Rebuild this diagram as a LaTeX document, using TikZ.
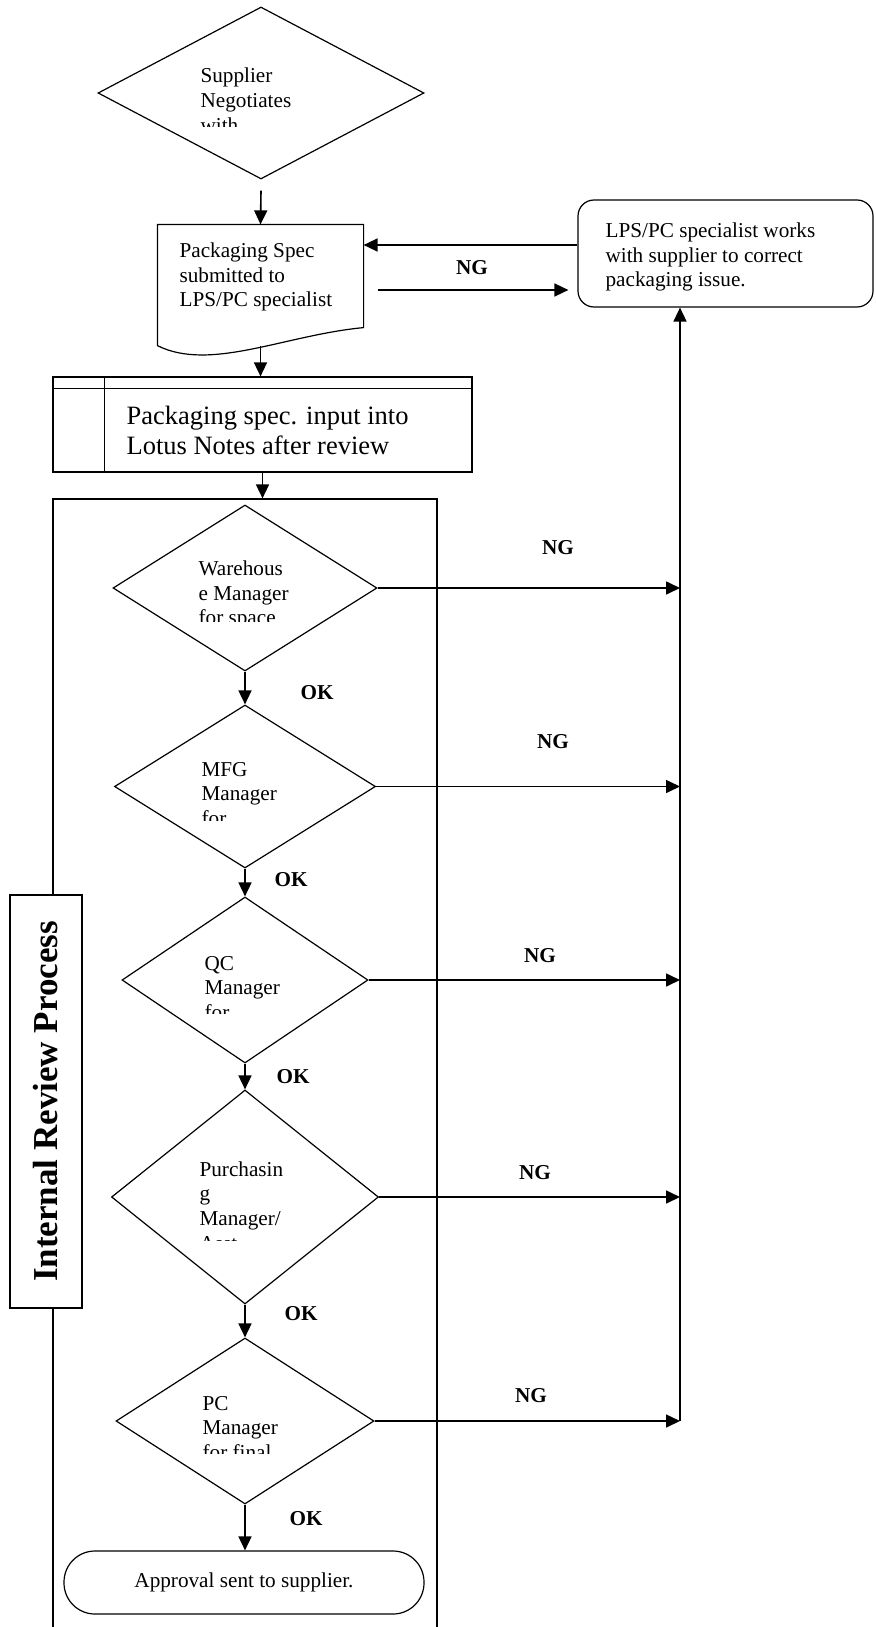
\documentclass[tikz,border=0pt]{standalone}
\usepackage{fontspec}
\setmainfont{Liberation Serif}
\usepackage{tikz}
\usetikzlibrary{calc}
\usetikzlibrary{shapes.geometric}
\usetikzlibrary{arrows.meta}

\tikzset{
  decision/.style={draw, diamond, inner sep=0pt},
  flow/.style={-{Triangle[length=7pt, width=6.5pt]}, line width=0.8pt},
  body/.style={font=\fontsize{10.6}{12.4}\selectfont, align=left, inner sep=0pt, anchor=west},
  verdict/.style={font=\bfseries\fontsize{10.6}{12.4}\selectfont, inner sep=0pt},
}

\begin{document}
\begin{tikzpicture}[x=0.5pt, y=-0.5pt, line width=0.6pt]
\useasboundingbox (0,0) rectangle (875,1627);

% supplier side
\node [decision, minimum width=163pt, minimum height=86pt] (neg) at (261,93) {};
\begin{scope}
\clip (190,55) rectangle (340,127);
\node [body] (negtext) at (200,100) {Supplier\\Negotiates\\with};
\end{scope}

\node [minimum width=102.5pt, minimum height=60pt, inner sep=0pt] (spec) at (260.5,285) {};
\draw (spec.south west) -- (spec.north west) -- (spec.north east) -- ($(spec.south east)+(0,-18)$)
  .. controls (285,335) and (210,372) .. (spec.south west);
\node [body] (spectext) at (179,277) {Packaging Spec\\submitted to\\LPS/PC specialist};

\node [draw, rounded corners=8pt, minimum width=147.5pt, minimum height=53.5pt] (fix) at (725.5,253.5) {};
\node [body] (fixtext) at (605,257) {LPS/PC specialist works\\with supplier to correct\\packaging issue.};

% lotus notes entry
\node [draw, minimum width=209.5pt, minimum height=47.5pt] (input) at (262.5,424.5) {};
\draw ($(input.north west)+(0,12)$) -- ($(input.north east)+(0,12)$);
\draw ($(input.north west)+(52,0)$) -- ($(input.south west)+(52,0)$);
\node [body, font=\fontsize{13.25}{15}\selectfont] (inputtext) at (126,430) {Packaging spec. input into\\Lotus Notes after review};

% internal review
\node [draw, minimum width=192pt, minimum height=580.5pt] (review) at (245,1079.5) {};
\node [draw, fill=white, rotate=90, minimum width=206.5pt, minimum height=36pt, inner sep=0pt,
  font=\bfseries\fontsize{17.5}{20}\selectfont] (irp) at (46,1101.5) {Internal Review Process};

\node [decision, minimum width=132pt, minimum height=83pt] (ware) at (245,588) {};
\node [decision, minimum width=130.5pt, minimum height=81.5pt] (mfg) at (245,786.5) {};
\node [decision, minimum width=123pt, minimum height=83pt] (qc) at (245,980) {};
\node [decision, minimum width=133.5pt, minimum height=107pt] (buy) at (245,1197) {};
\node [decision, minimum width=129pt, minimum height=83pt] (pc) at (245,1421) {};

\begin{scope}
\clip (190,550) rectangle (340,621);
\node [body] (waretext) at (198,595) {Warehous\\e Manager\\for space};
\end{scope}
\begin{scope}
\clip (190,750) rectangle (340,820);
\node [body] (mfgtext) at (201,794) {MFG\\Manager\\for};
\end{scope}
\begin{scope}
\clip (190,945) rectangle (340,1013);
\node [body] (qctext) at (204,988) {QC\\Manager\\for};
\end{scope}
\begin{scope}
\clip (190,1150) rectangle (340,1240);
\node [body] (buytext) at (199,1206) {Purchasin\\g\\Manager/\\Asst};
\end{scope}
\begin{scope}
\clip (190,1385) rectangle (340,1453);
\node [body] (pctext) at (202,1428) {PC\\Manager\\for final};
\end{scope}

\node [draw, rounded corners=15.5pt, minimum width=180pt, minimum height=31.5pt,
  font=\fontsize{10.6}{12.4}\selectfont] (approve) at (244,1582.5) {Approval sent to supplier.};

% arrows down the page
\draw [flow] ($(neg.south)+(0,11)$) -- (spec.north);
\draw [flow] (spec.south) -- (spec.south |- input.north);
\draw [flow] (input.south) -- (input.south |- review.north);
\draw [flow] ($(fix.west)+(0,-8.5)$) -- ($(spec.east)+(0,-40)$);
\draw [flow] ($(spec.east)+(14,5)$) -- ($(fix.west)+(-9,36.5)$);
\draw [flow] (ware.south) -- (mfg.north);
\draw [flow] (mfg.south) -- (qc.north);
\draw [flow] (qc.south) -- (buy.north);
\draw [flow] (buy.south) -- (pc.north);
\draw [flow] (pc.south) -- (pc.south |- approve.north);

% NG rail back to the specialist
\coordinate (rail) at (680,1421);
\foreach \d in {ware, mfg, qc, buy, pc}
  \draw [flow] (\d.east) -- (\d.east -| rail);
\draw [flow] (rail) -- (rail |- fix.south);

% labels
\node [verdict] (ng0) at (472,268) {NG};
\node [verdict] (ng1) at (558,548) {NG};
\node [verdict] (ng2) at (553,742) {NG};
\node [verdict] (ng3) at (540,956) {NG};
\node [verdict] (ng4) at (535,1173) {NG};
\node [verdict] (ng5) at (531,1396) {NG};
\node [verdict] (ok1) at (317,693) {OK};
\node [verdict] (ok2) at (291,880) {OK};
\node [verdict] (ok3) at (293,1077) {OK};
\node [verdict] (ok4) at (301,1314) {OK};
\node [verdict] (ok5) at (306,1519) {OK};

\end{tikzpicture}
\end{document}
